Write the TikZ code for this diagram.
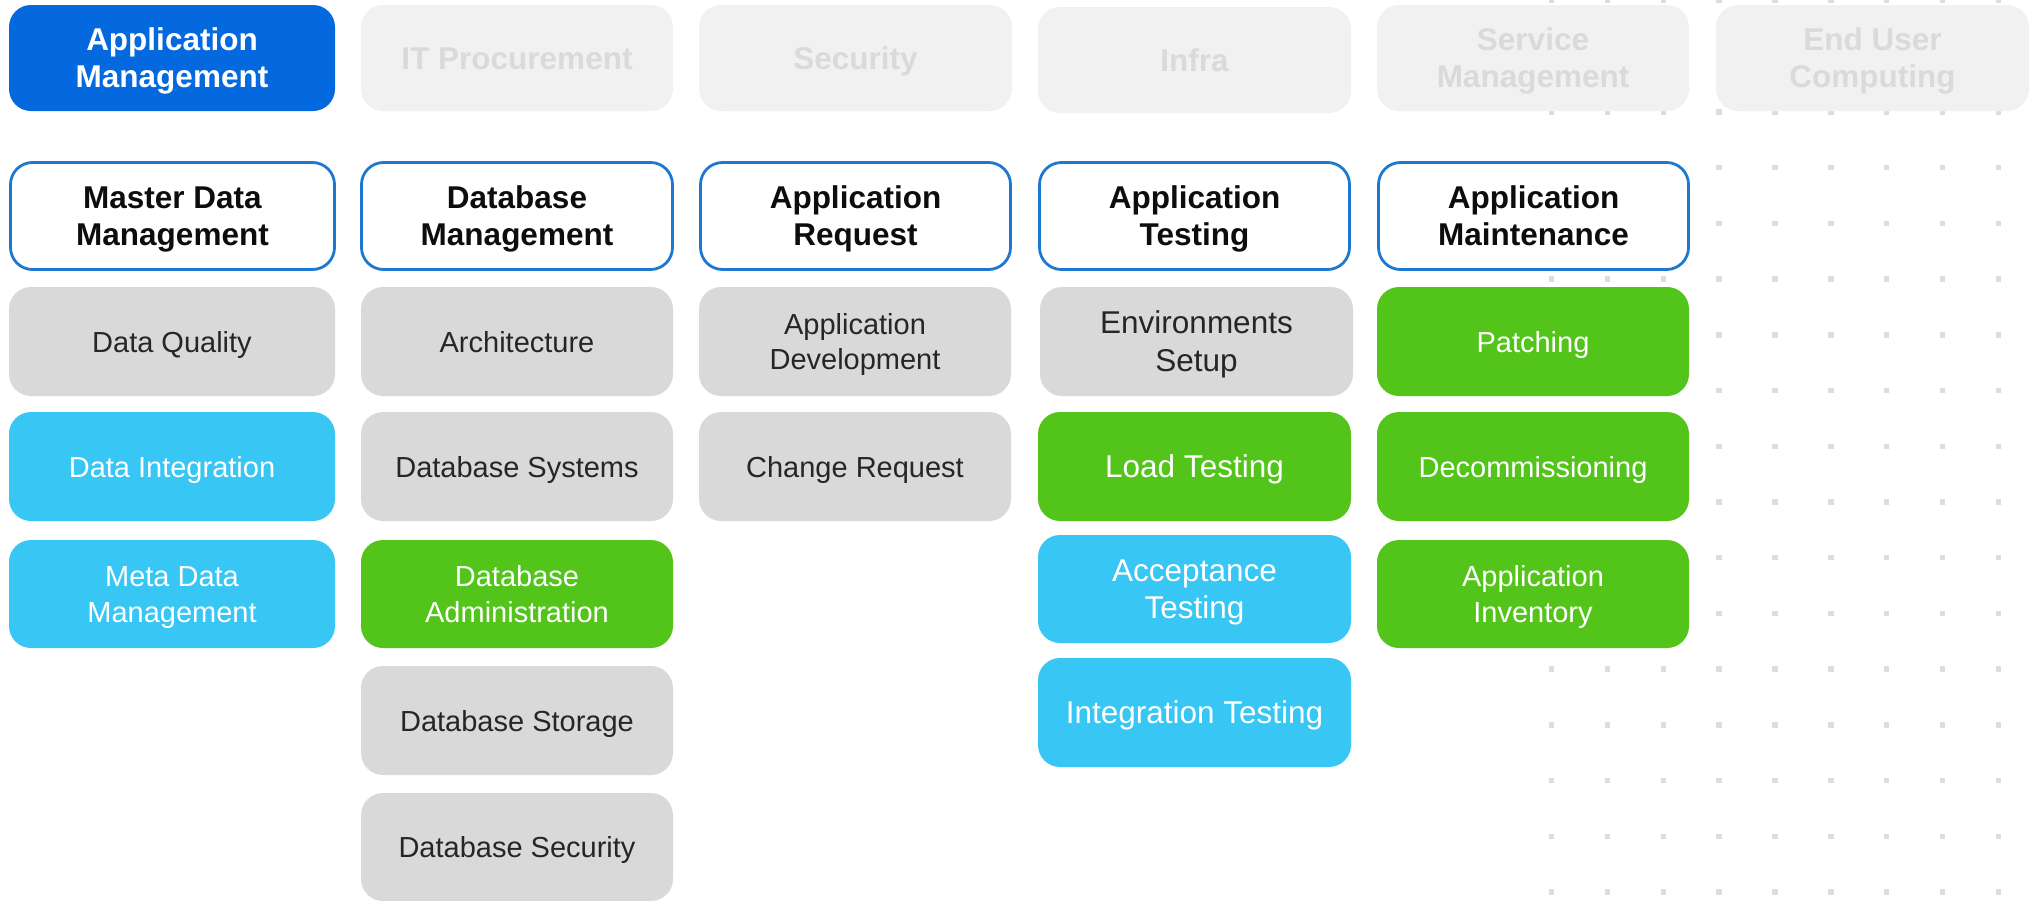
\documentclass[tikz,border=0pt]{standalone}
\usepackage{fontspec}
\setmainfont{Liberation Sans}
\definecolor{activeblue}{HTML}{0468DF}
\definecolor{hborder}{HTML}{1E78D2}
\definecolor{grayfill}{HTML}{D9D9D9}
\definecolor{graytext}{HTML}{262626}
\definecolor{cyanfill}{HTML}{38C6F4}
\definecolor{greenfill}{HTML}{52C41A}
\definecolor{offfill}{HTML}{F1F1F1}
\definecolor{offtext}{HTML}{DADADA}
\definecolor{dotc}{HTML}{DDDDDD}
\definecolor{headtext}{HTML}{0D0D0D}
\tikzset{
  basebox/.style={rectangle, rounded corners=11pt, inner sep=0pt, align=center},
  topactive/.style={basebox, fill=activeblue, text=white, font=\fontsize{15.75pt}{18.6pt}\selectfont\bfseries},
  topoff/.style={basebox, fill=offfill, text=offtext, font=\fontsize{15.75pt}{18.6pt}\selectfont\bfseries},
  headbox/.style={basebox, fill=white, draw=hborder, line width=1.4pt, text=headtext, font=\fontsize{15.75pt}{18.6pt}\selectfont\bfseries},
  graybox/.style={basebox, fill=grayfill, text=graytext, font=\fontsize{14.5pt}{17.7pt}\selectfont},
  cyanbox/.style={basebox, fill=cyanfill, text=white, font=\fontsize{14.5pt}{17.7pt}\selectfont},
  greenbox/.style={basebox, fill=greenfill, text=white, font=\fontsize{14.5pt}{17.7pt}\selectfont},
  bigtext/.style={font=\fontsize{15.75pt}{18.8pt}\selectfont},
  labeltext/.style={fill=none, draw=none, yshift=-1.8pt},
}
\newcommand\bx[7]{%
  \node[#6, minimum width={(#4-#2)*0.5pt}, minimum height={(#5-#3)*0.5pt}] (#1) at ({(#2+#4)/2},{(#3+#5)/2}) {};
  \node[#6, labeltext] (#1t) at (#1.center) {\strut#7\strut};}
\begin{document}
\begin{tikzpicture}[x=0.5pt,y=-0.5pt]
\useasboundingbox (0,0) rectangle (2034,900);
% dot grid
\foreach \i in {0,...,8}{
  \foreach \j in {0,...,16}{
    \fill[dotc] ({1551.6+\i*55.84-2.75},{0.6+\j*55.71-2.75}) rectangle +(5.5,5.5);
  }
}
% top row
\bx{top1}{9}{5}{335}{111}{topactive}{Application\\Management}
\bx{top2}{361}{5}{673}{111}{topoff}{IT Procurement}
\bx{top3}{699}{5}{1012}{111}{topoff}{Security}
\bx{top4}{1038}{7}{1351}{113}{topoff}{Infra}
\bx{top5}{1377}{5}{1689}{111}{topoff}{Service\\Management}
\bx{top6}{1716}{5}{2029}{111}{topoff}{End User\\Computing}
% headers
\bx{h1}{10.5}{162.5}{334.5}{269.5}{headbox}{Master Data\\Management}
\bx{h2}{361.5}{162.5}{672.5}{269.5}{headbox}{Database\\Management}
\bx{h3}{700.5}{162.5}{1010.5}{269.5}{headbox}{Application\\Request}
\bx{h4}{1039.5}{162.5}{1349.5}{269.5}{headbox}{Application\\Testing}
\bx{h5}{1378.5}{162.5}{1688.5}{269.5}{headbox}{Application\\Maintenance}
% column 1
\bx{dq}{9}{287}{335}{396}{graybox}{Data Quality}
\bx{di}{9}{412}{335}{521}{cyanbox}{Data Integration}
\bx{mdm}{9}{540}{335}{648}{cyanbox}{Meta Data\\Management}
% column 2
\bx{arch}{361}{287}{673}{396}{graybox}{Architecture}
\bx{dbsys}{361}{412}{673}{521}{graybox}{Database Systems}
\bx{dbadm}{361}{540}{673}{648}{greenbox}{Database\\Administration}
\bx{dbsto}{361}{666}{673}{775}{graybox}{Database Storage}
\bx{dbsec}{361}{793}{673}{901}{graybox}{Database Security}
% column 3
\bx{appdev}{699}{287}{1011}{396}{graybox}{Application\\Development}
\bx{chreq}{699}{412}{1011}{521}{graybox}{Change Request}
% column 4
\bx{env}{1040}{287}{1353}{396}{graybox,bigtext}{Environments\\Setup}
\bx{load}{1038}{412}{1351}{521}{greenbox,bigtext}{Load Testing}
\bx{acc}{1038}{535}{1351}{643}{cyanbox,bigtext}{Acceptance\\Testing}
\bx{integ}{1038}{658}{1351}{767}{cyanbox,bigtext}{Integration Testing}
% column 5
\bx{patch}{1377}{287}{1689}{396}{greenbox}{Patching}
\bx{decom}{1377}{412}{1689}{521}{greenbox}{Decommissioning}
\bx{inv}{1377}{540}{1689}{648}{greenbox}{Application\\Inventory}
\end{tikzpicture}
\end{document}
